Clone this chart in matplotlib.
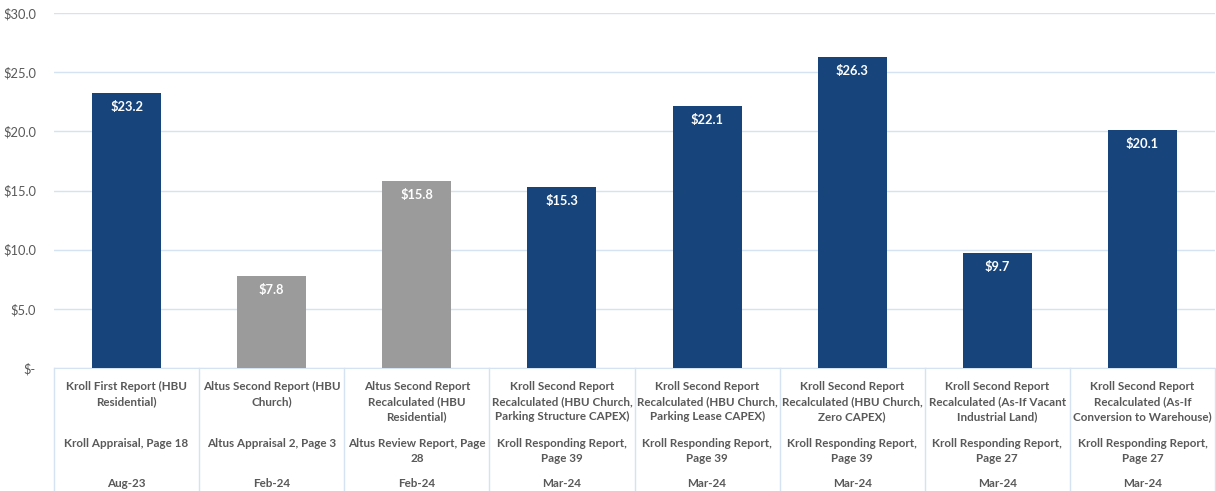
import matplotlib.pyplot as plt
import numpy as np
from matplotlib.ticker import FuncFormatter, MultipleLocator

# chart data
values = [23.2, 7.8, 15.8, 15.3, 22.1, 26.3, 9.7, 20.1]
bar_groups = ['kroll', 'altus', 'altus', 'kroll', 'kroll', 'kroll', 'kroll', 'kroll']
report_names = [
    'Kroll First Report (HBU\nResidential)',
    'Altus Second Report (HBU\nChurch)',
    'Altus Second Report\nRecalculated (HBU\nResidential)',
    'Kroll Second Report\nRecalculated (HBU Church,\nParking Structure CAPEX)',
    'Kroll Second Report\nRecalculated (HBU Church,\nParking Lease CAPEX)',
    'Kroll Second Report\nRecalculated (HBU Church,\nZero CAPEX)',
    'Kroll Second Report\nRecalculated (As-If Vacant\nIndustrial Land)',
    'Kroll Second Report\nRecalculated (As-If\nConversion to Warehouse)',
]
sources = [
    'Kroll Appraisal, Page 18',
    'Altus Appraisal 2, Page 3',
    'Altus Review Report, Page\n28',
    'Kroll Responding Report,\nPage 39',
    'Kroll Responding Report,\nPage 39',
    'Kroll Responding Report,\nPage 39',
    'Kroll Responding Report,\nPage 27',
    'Kroll Responding Report,\nPage 27',
]
dates = ['Aug-23', 'Feb-24', 'Feb-24', 'Mar-24', 'Mar-24', 'Mar-24', 'Mar-24', 'Mar-24']

colors = {'kroll': '#17457B', 'altus': '#9B9B9B'}
text_grey = '#595959'
line_col = '#D5E2F2'

W, H = 1216, 491
fig = plt.figure(figsize=(W / 100, H / 100), dpi=100)
ax = fig.add_axes([54 / W, (H - 368) / H, (1215 - 54) / W, (368 - 13) / H])

x = np.arange(len(values))
bars = ax.bar(x, values, width=0.475, color=[colors[g] for g in bar_groups], zorder=3)

for rect, v in zip(bars, values):
    ax.annotate(f'${v:.1f}', (rect.get_x() + rect.get_width() / 2, v),
                xytext=(0, -10), textcoords='offset points', ha='center', va='center',
                color='white', fontsize=9.3, fontweight='bold', family='Lato')

ax.set_xlim(-0.5, len(values) - 0.5)
ax.set_ylim(0, 30)
ax.yaxis.set_major_locator(MultipleLocator(5))
ax.yaxis.set_major_formatter(FuncFormatter(lambda v, p: '$-' if v == 0 else f'${v:.1f}'))
ax.grid(axis='y', color=line_col, linewidth=1, zorder=0)
ax.set_xticks([])
ax.tick_params(axis='y', length=0, pad=13, labelsize=9.3, labelcolor=text_grey)
for lab in ax.get_yticklabels():
    lab.set_family('Lato')
for s in ['top', 'right', 'left']:
    ax.spines[s].set_visible(False)
ax.spines['bottom'].set_color(line_col)

# multi-level category table below the axis
trans = ax.get_xaxis_transform()
px = 1 / (368 - 13)
for i in range(len(values) + 1):
    ax.plot([i - 0.5, i - 0.5], [0, -125 * px], transform=trans, color=line_col,
            linewidth=1, clip_on=False)

font = dict(family='Lato', fontweight='bold', fontsize=8.4, color=text_grey,
            ha='center', va='top', linespacing=1.45, clip_on=False)
for i in range(len(values)):
    ax.text(i, -13 * px, report_names[i], transform=trans, **font)
    ax.text(i, -70 * px, sources[i], transform=trans, **font)
    ax.text(i, -110 * px, dates[i], transform=trans, **font)

fig.savefig('out.png', dpi=100)
